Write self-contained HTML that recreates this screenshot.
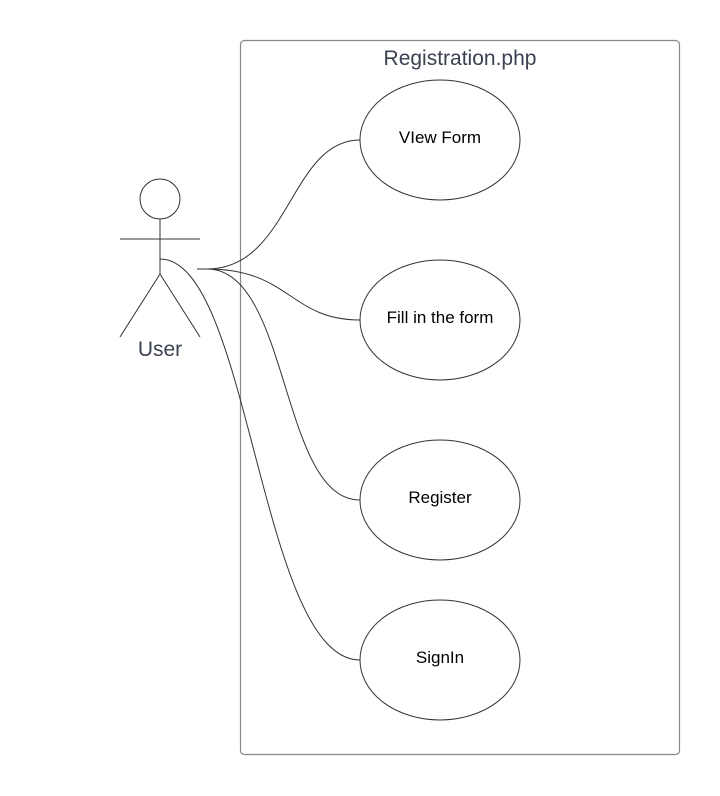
<!DOCTYPE html>
<html><head><style>body{margin:0;background:#fff}svg{display:block}</style></head><body>
<svg width="720" height="796" xmlns="http://www.w3.org/2000/svg" font-family="Liberation Sans, sans-serif">
<rect x="240.5" y="40.5" width="439" height="714" rx="4" fill="none" stroke="#888" stroke-width="1.2"/>
<text x="460" y="65" font-size="21" fill="#3a4150" text-anchor="middle">Registration.php</text>
<g fill="none" stroke="#333" stroke-width="1">
<circle cx="160" cy="199" r="20"/>
<line x1="120" y1="239" x2="200" y2="239"/>
<line x1="160" y1="219" x2="160" y2="274"/>
<line x1="160" y1="274" x2="120" y2="337"/>
<line x1="160" y1="274" x2="200" y2="337"/>
<ellipse cx="440" cy="140" rx="80" ry="60"/>
<ellipse cx="440" cy="320" rx="80" ry="60"/>
<ellipse cx="440" cy="500" rx="80" ry="60"/>
<ellipse cx="440" cy="660" rx="80" ry="60"/>
<line x1="197" y1="269" x2="207" y2="269"/>
<path d="M207 269 C290 269 290 140 360 140"/>
<path d="M207 269 C290 269 290 320 360 320"/>
<path d="M207 269 C290 269 280 500 360 500"/>
<path d="M160 259 C250 259 260 660 360 660"/>
</g>
<text x="160" y="356" font-size="21" fill="#3a4150" text-anchor="middle">User</text>
<g font-size="17" fill="#000" text-anchor="middle">
<text x="440" y="143">VIew Form</text>
<text x="440" y="323">Fill in the form</text>
<text x="440" y="503">Register</text>
<text x="440" y="663">SignIn</text>
</g>
</svg>
</body></html>
